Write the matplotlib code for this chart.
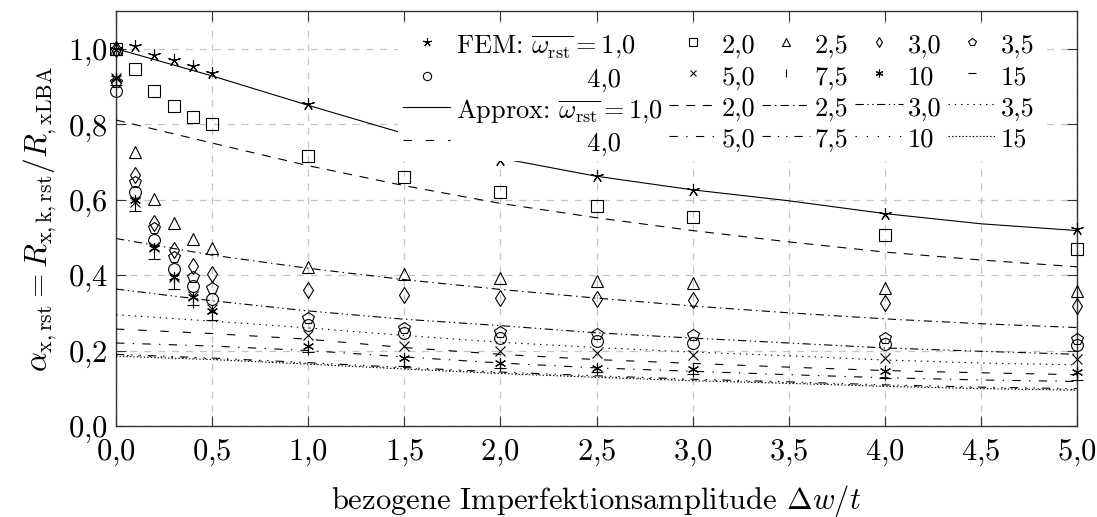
import matplotlib
matplotlib.use("Agg")
import matplotlib.pyplot as plt

plt.rcParams["font.family"] = "cmr10"
plt.rcParams["mathtext.fontset"] = "cm"
plt.rcParams["axes.formatter.use_mathtext"] = True
plt.rcParams["lines.scale_dashes"] = False

# ---------------- data ----------------
x_fem = [0.0, 0.1, 0.2, 0.3, 0.4, 0.5, 1.0, 1.5, 2.0, 2.5, 3.0, 4.0, 5.0]
fem_10 = [1.000, 1.007, 0.984, 0.970, 0.953, 0.935, 0.853, 0.775, 0.705, 0.663, 0.626, 0.563, 0.522]
fem_20 = [1.000, 0.946, 0.887, 0.849, 0.820, 0.800, 0.716, 0.661, 0.619, 0.583, 0.555, 0.506, 0.470]
fem_25 = [1.000, 0.726, 0.601, 0.538, 0.496, 0.472, 0.421, 0.403, 0.391, 0.384, 0.378, 0.367, 0.358]
fem_30 = [1.000, 0.664, 0.539, 0.467, 0.425, 0.403, 0.361, 0.348, 0.340, 0.336, 0.333, 0.325, 0.318]
fem_35 = [0.913, 0.646, 0.524, 0.449, 0.396, 0.366, 0.285, 0.260, 0.249, 0.243, 0.240, 0.233, 0.230]
fem_40 = [0.888, 0.620, 0.494, 0.416, 0.370, 0.336, 0.267, 0.246, 0.233, 0.226, 0.221, 0.218, 0.216]
fem_50 = [0.922, 0.595, 0.475, 0.395, 0.345, 0.310, 0.242, 0.211, 0.200, 0.193, 0.189, 0.180, 0.177]
fem_75 = [0.920, 0.585, 0.458, 0.380, 0.330, 0.295, 0.203, 0.172, 0.161, 0.150, 0.145, 0.138, 0.134]
fem_100 = [0.922, 0.598, 0.471, 0.394, 0.342, 0.304, 0.211, 0.180, 0.167, 0.155, 0.150, 0.145, 0.142]
fem_150 = [0.905, 0.570, 0.442, 0.363, 0.321, 0.282, 0.195, 0.160, 0.154, 0.142, 0.137, 0.127, 0.123]

x_app = [0.0, 0.5, 1.0, 1.5, 2.0, 2.5, 3.0, 3.5, 4.0, 4.5, 5.0]
app_10 = [1.000, 0.928, 0.850, 0.775, 0.710, 0.662, 0.626, 0.597, 0.563, 0.536, 0.518]
app_20 = [0.811, 0.750, 0.690, 0.637, 0.590, 0.552, 0.518, 0.488, 0.461, 0.440, 0.422]
app_25 = [0.497, 0.453, 0.418, 0.388, 0.362, 0.339, 0.318, 0.300, 0.284, 0.271, 0.261]
app_30 = [0.363, 0.332, 0.305, 0.283, 0.266, 0.247, 0.233, 0.220, 0.207, 0.198, 0.190]
app_35 = [0.295, 0.278, 0.260, 0.240, 0.222, 0.208, 0.196, 0.186, 0.175, 0.167, 0.162]
app_40 = [0.257, 0.245, 0.230, 0.208, 0.190, 0.176, 0.166, 0.156, 0.147, 0.141, 0.136]
app_50 = [0.220, 0.212, 0.200, 0.183, 0.167, 0.154, 0.145, 0.136, 0.128, 0.122, 0.118]
app_75 = [0.190, 0.180, 0.168, 0.155, 0.143, 0.133, 0.124, 0.117, 0.109, 0.103, 0.099]
app_100 = [0.188, 0.178, 0.166, 0.153, 0.141, 0.131, 0.122, 0.115, 0.107, 0.101, 0.097]
app_150 = [0.185, 0.176, 0.164, 0.151, 0.139, 0.129, 0.120, 0.113, 0.105, 0.099, 0.095]

omega_labels = ["1,0", "2,0", "2,5", "3,0", "3,5", "4,0", "5,0", "7,5", "10", "15"]
fem_series = [fem_10, fem_20, fem_25, fem_30, fem_35, fem_40, fem_50, fem_75, fem_100, fem_150]
app_series = [app_10, app_20, app_25, app_30, app_35, app_40, app_50, app_75, app_100, app_150]

xticks = [0.0, 0.5, 1.0, 1.5, 2.0, 2.5, 3.0, 3.5, 4.0, 4.5, 5.0]
xtick_labels = ["0,0", "0,5", "1,0", "1,5", "2,0", "2,5", "3,0", "3,5", "4,0", "4,5", "5,0"]
yticks = [0.0, 0.2, 0.4, 0.6, 0.8, 1.0]
ytick_labels = ["0,0", "0,2", "0,4", "0,6", "0,8", "1,0"]

# ---------------- styles ----------------
markers = [(5, 2, 0), "s", "^", "d", "p", "o", "x", "|", (6, 2, 0), "_"]
msizes = [9, 8, 8, 8, 8.5, 8.5, 6.5, 8, 8, 8]
linestyles = [
    "-",
    (0, (6.5, 5.5)),
    (0, (6, 3, 1, 3)),
    (0, (6, 2.5, 1, 2.5, 1, 2.5)),
    (0, (1, 3.5)),
    (0, (6, 10)),
    (0, (6, 6, 1, 6)),
    (0, (6, 5, 1, 5, 1, 5)),
    (0, (1, 7)),
    (0, (1, 1.5)),
]

FS_TICK = 22
FS_LEG = 19
FS_LAB = 22


def tex_comma(s):
    return "$" + s.replace(",", "{,}") + "$"


fig = plt.figure(figsize=(10.97, 5.17), dpi=100)
ax = fig.add_axes([116 / 1097, 91 / 517, 961 / 1097, 415 / 517])

fem_handles = []
for vals, m, ms in zip(fem_series, markers, msizes):
    h, = ax.plot(x_fem, vals, linestyle="none", marker=m, markersize=ms,
                 markerfacecolor="none", markeredgecolor="black",
                 markeredgewidth=0.8, color="black", zorder=4, clip_on=False)
    fem_handles.append(h)

app_handles = []
for vals, ls in zip(app_series, linestyles):
    h, = ax.plot(x_app, vals, linestyle=ls, color="black", linewidth=0.8, zorder=3)
    app_handles.append(h)

ax.set_xlim(0, 5)
ax.set_ylim(0, 1.1)
ax.set_xticks(xticks)
ax.set_xticklabels([tex_comma(s) for s in xtick_labels])
ax.set_yticks(yticks)
ax.set_yticklabels([tex_comma(s) for s in ytick_labels])
ax.tick_params(direction="in", length=7, width=0.8, top=True, right=True,
               labelsize=FS_TICK, color="#333333")
ax.tick_params(axis="x", pad=8)
ax.tick_params(axis="y", pad=6)
ax.grid(True, color="#c4c4c4", linestyle=(0, (5, 5)), linewidth=0.9)
ax.set_axisbelow(True)
for sp in ax.spines.values():
    sp.set_color("#333333")
    sp.set_linewidth(1.0)

ax.set_xlabel(r"bezogene Imperfektionsamplitude $\Delta w/t$", fontsize=FS_LAB, labelpad=11)
ax.set_ylabel(r"$\alpha_{\rm x,rst} = R_{\rm x,k,rst}/R_{\rm ,xLBA}$", fontsize=FS_LAB + 0.5, labelpad=6)

# legend: row-wise layout (5 columns x 4 rows)
fem_labels = [r"FEM: $\overline{\omega_{\rm rst}} = 1{,}0$"] + omega_labels[1:]
app_labels = [r"Approx: $\overline{\omega_{\rm rst}} = 1{,}0$"] + omega_labels[1:]
fem_labels[5] = "               4,0"
app_labels[5] = "               4,0"
handles, labels = [], []
for c in range(5):
    handles += [fem_handles[c], fem_handles[c + 5], app_handles[c], app_handles[c + 5]]
    labels += [fem_labels[c], fem_labels[c + 5], app_labels[c], app_labels[c + 5]]

leg = ax.legend(handles, labels, ncol=5, loc="upper right",
                bbox_to_anchor=((1040 - 116) / 961, (426 - 26) / 415),
                fontsize=FS_LEG, frameon=True, fancybox=False, framealpha=1,
                facecolor="white", edgecolor="none", borderaxespad=0,
                borderpad=0.2, labelspacing=0.15, handlelength=1.8,
                handleheight=1.15, handletextpad=0.2, columnspacing=0.25,
                markerscale=0.7)
leg.set_zorder(10)

fig.savefig("out.png", dpi=100)
